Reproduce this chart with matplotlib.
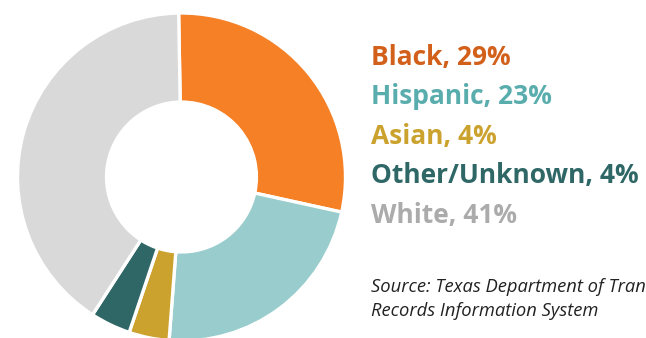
import matplotlib
matplotlib.use("Agg")
import matplotlib.pyplot as plt

categories = ["Black", "Hispanic", "Asian", "Other/Unknown", "White"]
values = [29, 23, 4, 4, 41]
wedge_colors = ["#F58025", "#99CCCC", "#CBA22E", "#2F6767", "#D9D9D9"]
label_colors = ["#D2601A", "#5AADAD", "#CBA22E", "#2F6767", "#ABABAB"]
source_lines = ["Source: Texas Department of Transportation Crash",
                "Records Information System"]

W, H = 646, 338
fig = plt.figure(figsize=(W / 100, H / 100), dpi=100)
cx, cy, R = 181.5, 177, 164
ax = fig.add_axes([(cx - R) / W, (H - cy - R) / H, 2 * R / W, 2 * R / H])
ax.pie(values, colors=wedge_colors, startangle=91, counterclock=False,
       radius=1, wedgeprops=dict(width=0.543, edgecolor="white", linewidth=2.4))
ax.set_xlim(-1, 1)
ax.set_ylim(-1, 1)
ax.set_aspect("equal")
ax.axis("off")

x0 = 371 / W
base0 = 65
step = 39.5
for i, (c, v, col) in enumerate(zip(categories, values, label_colors)):
    y = H - (base0 + i * step)
    fig.text(x0, y / H, f"{c}, {v}%", color=col, fontsize=19,
             fontweight="bold", family="Open Sans", va="baseline", ha="left")

for j, line in enumerate(source_lines):
    fig.text(x0, (H - (292 + j * 24)) / H, line, color="#222222", fontsize=13.2,
             style="italic", family="Open Sans", va="baseline", ha="left")

fig.savefig("out.png", dpi=100)
